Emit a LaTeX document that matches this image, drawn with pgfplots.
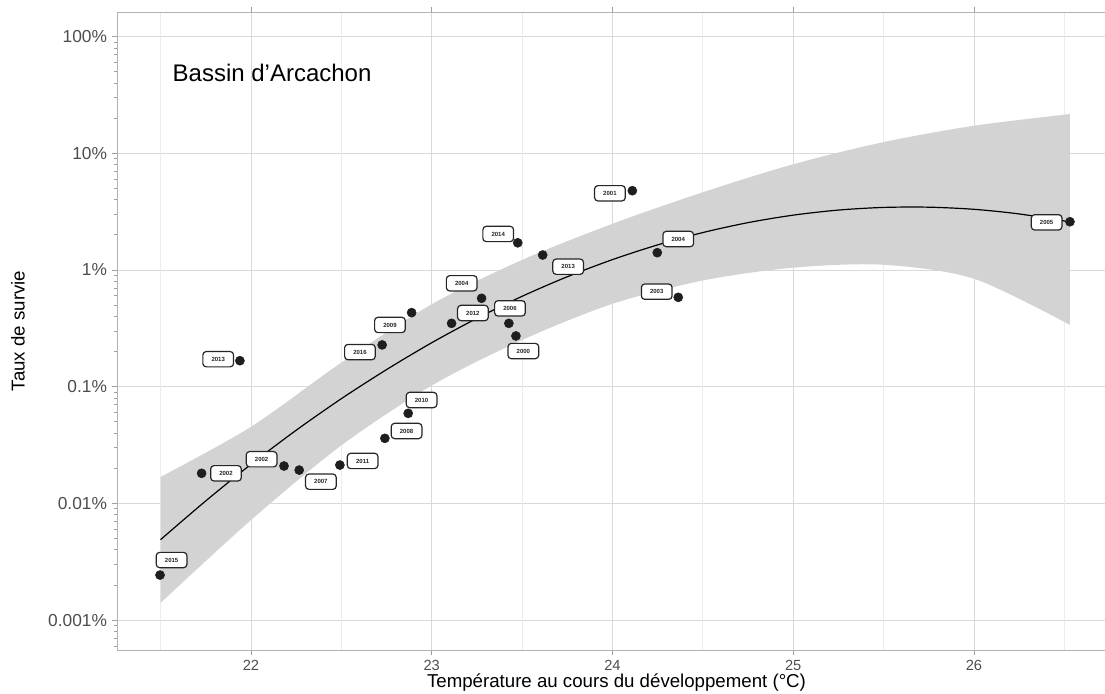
\documentclass[border=0pt]{standalone}
\usepackage{fontspec}
\setmainfont{Liberation Sans}
\usepackage{pgfplots}
\usepackage{pgfplotstable}
\pgfplotsset{compat=1.18}
\usepgfplotslibrary{fillbetween}
\definecolor{gridmaj}{HTML}{D9D9D9}
\definecolor{gridmin}{HTML}{ECECEC}
\definecolor{bandc}{HTML}{D3D3D3}
\definecolor{ptc}{HTML}{1E1E1E}
\definecolor{tickc}{HTML}{4D4D4D}

\pgfplotstableread{
x y
21.497 0.00243
21.727 0.0181
21.939 0.167
22.183 0.0209
22.267 0.0193
22.492 0.0213
22.741 0.0361
22.870 0.0591
22.726 0.228
22.889 0.431
23.110 0.349
23.276 0.572
23.427 0.349
23.466 0.272
23.476 1.71
23.614 1.344
24.110 4.78
24.248 1.407
24.364 0.583
26.531 2.59
}\ptstab

\pgfplotstableread{
lx ly lab
21.561 0.00327 2015
21.862 0.0181 2002
21.819 0.172 2013
22.059 0.0239 2002
22.387 0.01534 2007
22.618 0.0231 2011
22.861 0.0417 2008
22.944 0.0769 2010
22.603 0.198 2016
22.769 0.338 2009
23.166 0.769 2004
23.228 0.428 2012
23.433 0.469 2006
23.507 0.202 2000
23.368 2.035 2014
23.755 1.067 2013
23.986 4.54 2001
24.364 1.843 2004
24.245 0.652 2003
26.402 2.56 2005
}\labtab

\pgfplotstableread{
x y
21.50 0.00489
21.75 0.0105
22.00 0.0216
22.25 0.0423
22.50 0.0789
22.75 0.140
23.00 0.238
23.25 0.385
23.50 0.595
23.75 0.875
24.00 1.227
24.25 1.641
24.50 2.093
24.75 2.546
25.00 2.951
25.25 3.262
25.50 3.437
25.75 3.453
26.00 3.311
26.25 3.022
26.53 2.585
}\fittab

\pgfplotstableread{
x y
21.50 0.01683
22.00 0.04529
22.50 0.1607
23.00 0.5082
23.50 1.219
24.00 2.489
24.50 4.634
25.00 8.054
25.50 12.47
26.00 17.22
26.53 21.68
}\uptab

\pgfplotstableread{
x y
21.50 0.001403
22.00 0.00719
22.50 0.03141
23.00 0.1023
23.50 0.2512
24.00 0.5129
24.50 0.8128
25.00 1.047
25.50 1.109
26.00 0.8414
26.53 0.3388
}\lotab

\begin{document}
\begin{tikzpicture}
\begin{axis}[
  scale only axis, width=741pt, height=478.5pt,
  xmin=21.259, xmax=26.725,
  ymode=log, ymin=5.54e-4, ymax=162.5,
  xtick={22,23,24,25,26},
  ytick={0.001,0.01,0.1,1,10,100},
  yticklabels={0.001\%,0.01\%,0.1\%,1\%,10\%,100\%},
  /pgf/number format/assume math mode=true,
  minor ytick={0.0006,0.0007,0.0008,0.0009,0.002,0.003,0.004,0.005,0.006,0.007,0.008,0.009,0.02,0.03,0.04,0.05,0.06,0.07,0.08,0.09,0.2,0.3,0.4,0.5,0.6,0.7,0.8,0.9,2,3,4,5,6,7,8,9,20,30,40,50,60,70,80,90},
  extra x ticks={21.5,22.5,23.5,24.5,25.5,26.5},
  extra x tick labels={},
  extra x tick style={grid=major, major grid style={color=gridmin, line width=0.5pt}, major tick length=0pt},
  xmajorgrids, ymajorgrids,
  major grid style={color=gridmaj, line width=0.6pt},
  tick align=outside, major tick length=4pt, minor tick length=2.5pt,
  tick style={color=gray!75, line width=0.6pt},
  axis line style={draw=none},
  ticklabel style={font=\fontsize{13}{13}\selectfont, color=tickc},
  xticklabel style={font=\fontsize{11}{11}\selectfont},
  xlabel={Température au cours du développement (°C)},
  ylabel={Taux de survie},
  every axis x label/.style={at={(axis description cs:0.5056,-0.0517)}, anchor=center, font=\fontsize{14}{14}\selectfont},
  every axis y label/.style={at={(axis description cs:-0.1002,0.5)}, rotate=90, anchor=center, font=\fontsize{14}{14}\selectfont},
]
\addplot[name path=up, draw=none, smooth] table[x=x,y=y] {\uptab};
\addplot[name path=lo, draw=none, smooth] table[x=x,y=y] {\lotab};
\addplot[bandc, draw=none] fill between[of=up and lo];
\addplot[black, line width=0.9pt, smooth] table[x=x,y=y] {\fittab};
\addplot[only marks, mark=*, mark size=3.4pt, mark options={fill=ptc, draw=ptc}] table[x=x,y=y] {\ptstab};
\addplot[only marks, mark=none, point meta=explicit symbolic, nodes near coords,
  every node near coord/.style={anchor=center, draw=black!85, fill=white, rounded corners=2.5pt, line width=0.9pt,
    minimum width=23pt, minimum height=11.5pt, inner sep=1pt, text=black!85,
    font=\fontsize{4.5}{5}\selectfont\bfseries}]
  table[x=lx,y=ly,meta=lab] {\labtab};
\node[anchor=west, font=\fontsize{18}{18}\selectfont] at (axis cs:21.541,48.7) {Bassin d'Arcachon};
\draw[gray!60, line width=0.6pt] (rel axis cs:1,1) -- (rel axis cs:0,1) -- (rel axis cs:0,0) -- (rel axis cs:1,0);
\end{axis}
\pgfresetboundingbox
\useasboundingbox ([xshift=-87.75pt,yshift=-32.25pt]current axis.south west) rectangle ([yshift=9pt]current axis.north east);
\end{tikzpicture}
\end{document}
